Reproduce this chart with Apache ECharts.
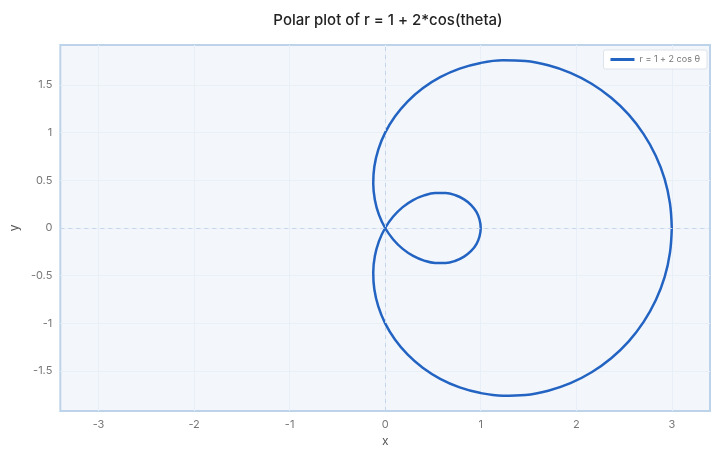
<!DOCTYPE html>
<html>
<head>
<meta charset="utf-8">
<script src="https://cdn.jsdelivr.net/npm/echarts@6/dist/echarts.min.js"></script>
<style>html,body{margin:0;padding:0;background:#fff;}#c{width:720px;height:457px;}</style>
</head>
<body>
<div id="c"></div>
<script>
const thetaDeg = [0,5,10,15,20,25,30,35,40,45,50,55,60,65,70,75,80,85,90,95,100,105,110,115,120,125,130,135,140,145,150,155,160,165,170,175,180,
  185,190,195,200,205,210,215,220,225,230,235,240,245,250,255,260,265,270,275,280,285,290,295,300,305,310,315,320,325,330,335,340,345,350,355,360];
const radius = [3,2.992,2.970,2.932,2.879,2.813,2.732,2.638,2.532,2.414,2.286,2.147,2.0,1.845,1.684,1.518,1.347,1.174,1.0,0.826,0.653,0.482,0.316,0.155,0,-0.147,-0.286,-0.414,-0.532,-0.638,-0.732,-0.813,-0.879,-0.932,-0.970,-0.992,-1,
  -0.992,-0.970,-0.932,-0.879,-0.813,-0.732,-0.638,-0.532,-0.414,-0.286,-0.147,0,0.155,0.316,0.482,0.653,0.826,1.0,1.174,1.347,1.518,1.684,1.845,2.0,2.147,2.286,2.414,2.532,2.638,2.732,2.813,2.879,2.932,2.970,2.992,3];
const xTicks = [-3,-2,-1,0,1,2,3];
const yTicks = [-1.5,-1,-0.5,0,0.5,1,1.5];
const seriesName = 'r = 1 + 2 cos θ';

const pts = thetaDeg.map((t, i) => {
  const a = t * Math.PI / 180;
  return [radius[i] * Math.cos(a), radius[i] * Math.sin(a)];
});

const chart = echarts.init(document.getElementById('c'));
const font = 'Inter, "Noto Sans", sans-serif';
chart.setOption({
  animation: false,
  title: {
    text: 'Polar plot of r = 1 + 2*cos(theta)',
    left: 383, top: 8, textAlign: 'center',
    textStyle: {fontFamily: font, fontSize: 15, fontWeight: 500, color: '#222'}
  },
  legend: {
    data: [seriesName], right: 13, top: 50,
    backgroundColor: '#fff', borderColor: '#dde3ea', borderWidth: 1, borderRadius: 2,
    padding: [5, 7], itemWidth: 24, itemHeight: 3, itemGap: 5,
    icon: 'rect',
    textStyle: {fontFamily: font, fontSize: 9, color: '#777'}
  },
  grid: {
    left: 58, right: 10, top: 45, bottom: 46, show: true,
    backgroundColor: '#f3f7fc', borderColor: '#bcd3ea', borderWidth: 2
  },
  xAxis: {
    type: 'value', min: -3.4, max: 3.4,
    name: 'x', nameLocation: 'middle', nameGap: 21,
    nameTextStyle: {fontFamily: font, fontSize: 12, color: '#555'},
    axisLine: {show: false},
    axisTick: {show: false, customValues: xTicks},
    axisLabel: {fontFamily: font, fontSize: 11, color: '#777', margin: 8, customValues: xTicks},
    splitLine: {show: true, lineStyle: {color: '#e9eff7', width: 1}}
  },
  yAxis: {
    type: 'value', min: -1.92, max: 1.92,
    name: 'y', nameLocation: 'middle', nameGap: 36, nameRotate: 90,
    nameTextStyle: {fontFamily: font, fontSize: 12, color: '#555'},
    axisLine: {show: false},
    axisTick: {show: false, customValues: yTicks},
    axisLabel: {fontFamily: font, fontSize: 11, color: '#777', margin: 8, customValues: yTicks},
    splitLine: {show: true, lineStyle: {color: '#e9eff7', width: 1}}
  },
  series: [{
    name: seriesName, type: 'line', data: pts, showSymbol: false, smooth: 0.4,
    lineStyle: {color: '#2363c2', width: 2.5}, itemStyle: {color: '#2363c2'},
    markLine: {
      silent: true, symbol: 'none', label: {show: false},
      lineStyle: {type: [4, 4], color: '#c6d6ea', width: 1},
      data: [{xAxis: 0}, {yAxis: 0}]
    },
    z: 3
  }]
});
</script>
</body>
</html>
